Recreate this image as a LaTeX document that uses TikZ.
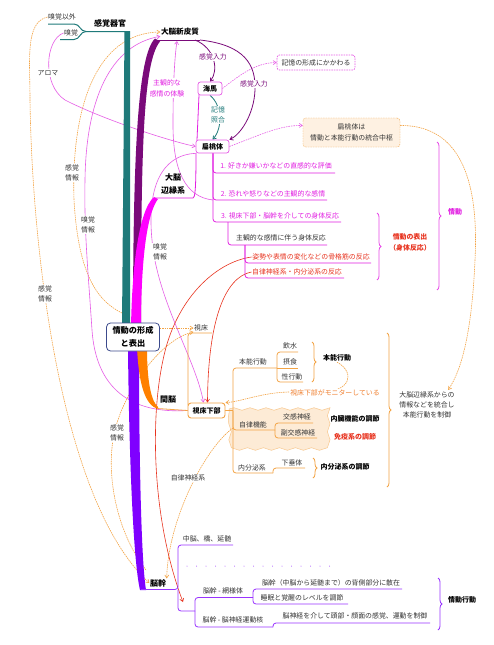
\documentclass[tikz,border=0pt]{standalone}
\usepackage{fontspec}
\setmainfont{Noto Sans CJK JP}
\usetikzlibrary{arrows.meta,decorations.pathreplacing,decorations.pathmorphing}
\pgfdeclarelayer{bg}
\pgfsetlayers{bg,main}
\definecolor{teal1}{HTML}{1F7A7A}
\definecolor{dpur}{HTML}{7A0A7A}
\definecolor{magc}{HTML}{E21FE2}
\definecolor{mag}{HTML}{FF00FF}
\definecolor{pk}{HTML}{E65CE6}
\definecolor{ora}{HTML}{FF8000}
\definecolor{lor}{HTML}{F3A445}
\definecolor{otext}{HTML}{F08030}
\definecolor{vio}{HTML}{7F00FF}
\definecolor{redc}{HTML}{E8331F}
\definecolor{navy}{HTML}{3C4A8C}
\definecolor{peach}{HTML}{FDEBD6}
\definecolor{txtc}{HTML}{333333}
\begin{document}
\begin{tikzpicture}[x=1pt,y=-1pt,
 tx/.style={font=\fontsize{6.9}{10}\selectfont, text=txtc, inner sep=0.5pt, align=center},
 txb/.style={font=\fontsize{8}{13}\selectfont\bfseries, text=black, inner sep=0.5pt, align=center},
 txs/.style={font=\fontsize{7}{10}\selectfont\bfseries, text=black, inner sep=0.5pt, align=center},
 wl/.style={tx, fill=white, inner sep=1pt},
 pbox/.style={draw=pk, line width=0.7pt, rounded corners=2.5pt, fill=white, inner sep=0pt, font=\fontsize{7}{9}\selectfont\bfseries},
 arr/.style={-{Straight Barb[length=3pt,width=4pt]}},
 pkl/.style={draw=pk, line width=0.6pt},
 mml/.style={draw=magc, line width=0.8pt, rounded corners=3pt},
 oll/.style={draw=lor, line width=0.6pt, dash pattern=on 1.5pt off 0.8pt},
 orl/.style={draw=lor, line width=0.8pt, rounded corners=3pt},
 vil/.style={draw=vio!80, line width=0.8pt, rounded corners=3pt},
 rdl/.style={draw=redc, line width=0.6pt},
 brc/.style={decorate, decoration={brace, amplitude=4pt}, line width=0.8pt},
]
\useasboundingbox (0,0) rectangle (494,645);

% ---------- nodes ----------
\node[txb] (organ) at (110,23) {感覚器官};
\node[tx] (kyuig) at (62,17) {嗅覚以外};
\node[tx] (kyu) at (71,33) {嗅覚};
\node[wl] (aroma) at (48,73) {アロマ};
\node[txb, font=\fontsize{7.6}{10}\selectfont\bfseries] (daino) at (180,32) {大脳新皮質};
\node[wl, text=dpur] (kin1) at (213,57) {感覚入力};
\node[wl, text=dpur] (kin2) at (254,84) {感覚入力};
\node[pbox, dash pattern=on 1.5pt off 1pt, font=\fontsize{6.9}{9}\selectfont, text=txtc, minimum width=78pt, minimum height=15pt] (kioku) at (316,62.5) {記憶の形成にかかわる};
\node[pbox, minimum width=24pt, minimum height=13pt] (kaiba) at (210,88.5) {海馬};
\node[wl, text=teal1] (shogo) at (218,115) {記憶\\照合};
\node[pbox, minimum width=33pt, minimum height=13pt] (hentou) at (212.5,146.5) {扁桃体};
\node[tx, font=\fontsize{6.9}{11}\selectfont, draw=lor, dash pattern=on 1.5pt off 1pt, fill=peach!70, rounded corners=3pt, minimum width=97pt, minimum height=29pt, inner sep=0pt] (togo) at (351.5,132.5) {扁桃体は\\情動と本能行動の統合中枢};
\node[wl, text=magc, font=\fontsize{6.9}{11}\selectfont] (shukan) at (167,88) {主観的な\\感情の体験};
\node[txb] (henen) at (173,184) {大脳\\辺縁系};
\node[tx, text=magc] (e1) at (276,166) {1. 好きか嫌いかなどの直感的な評価};
\node[tx, text=magc] (e2) at (273,194) {2. 恐れや怒りなどの主観的な感情};
\node[tx, text=magc] (e3) at (280,216) {3. 視床下部・脳幹を介しての身体反応};
\node[tx] (e3a) at (281,238) {主観的な感情に伴う身体反応};
\node[tx, text=redc] (e3b) at (311,257) {姿勢や表情の変化などの骨格筋の反応};
\node[tx, text=redc] (e3c) at (297,272) {自律神経系・内分泌系の反応};
\node[txs, text=redc, font=\fontsize{6.9}{11}\selectfont\bfseries] (hyoshutsu) at (410,242) {情動の表出\\（身体反応）};
\node[txs, text=magc] (jodo) at (455,212) {情動};
\node[wl] (kyj1) at (88,225) {嗅覚\\情報};
\node[wl] (kyj2) at (160,252) {嗅覚\\情報};
\node[wl] (kkj1) at (72,173) {感覚\\情報};
\node[wl] (kkj2) at (45,294) {感覚\\情報};
\node[wl] (kkj3) at (117,433) {感覚\\情報};
\node[draw=navy, line width=0.8pt, rounded corners=4pt, fill=white, minimum width=53pt, minimum height=28pt, inner sep=0pt, align=center, font=\fontsize{8.2}{13}\selectfont\bfseries] (core) at (133,337) {情動の形成\\と表出};
\node[tx] (shisho) at (201,328) {視床};
\node[txb] (kannou) at (168,400) {間脳};
\node[draw=lor, line width=0.9pt, rounded corners=3pt, fill=white, minimum width=37pt, minimum height=15pt, inner sep=0pt, font=\fontsize{7}{9}\selectfont\bfseries] (shitab) at (206.5,410.5) {視床下部};
\node[tx] (honno) at (253,362) {本能行動};
\node[tx] (insui) at (290,346) {飲水};
\node[tx] (sesshoku) at (290,362) {摂食};
\node[tx] (seiko) at (292,377) {性行動};
\node[txs] (honnob) at (337,358) {本能行動};
\node[tx, text=otext, fill=white] (monitor) at (335,393) {視床下部がモニターしている};
\node[tx] (jiritsu) at (253,425) {自律機能};
\node[tx] (kokan) at (297,417) {交感神経};
\node[tx] (fuku) at (298,433) {副交感神経};
\node[txs] (naizo) at (355,419) {内臓機能の調節};
\node[txs, text=redc] (meneki) at (355,437) {免疫系の調節};
\node[tx] (naibun) at (252,468) {内分泌系};
\node[tx] (kasui) at (292,463) {下垂体};
\node[txs] (naibunb) at (345,467) {内分泌系の調節};
\node[tx, font=\fontsize{6.9}{9.8}\selectfont] (tougou) at (427,405) {大脳辺縁系からの\\情報などを統合し\\本能行動を制御};
\node[wl] (jiritsush) at (188,478) {自律神経系};
\node[txb] (noukan) at (158,583) {脳幹};
\node[tx] (chuno) at (207,539) {中脳、橋、延髄};
\node[tx] (moyo) at (223,591) {脳幹 - 網様体};
\node[tx] (shinkei) at (233,620) {脳幹 - 脳神経運動核};
\node[tx] (sanzai) at (331,583) {脳幹（中脳から延髄まで）の背側部分に散在};
\node[tx] (suimin) at (302,598) {睡眠と覚醒のレベルを調節};
\node[tx] (seigyo) at (355,616) {脳神経を介して頭部・顔面の感覚、運動を制御};
\node[txs] (jodokodo) at (462,600) {情動行動};

\coordinate (e2s) at (213,200);
\coordinate (o2s) at (122,313);
\coordinate (o3s) at (146,570);
\coordinate (ans) at (233,428);
\coordinate (tgend) at (448,390);
\coordinate (dtop) at (177,41);

% ---------- background drawings ----------
\begin{pgfonlayer}{bg}
\fill[white] (0,0) rectangle (494,645);
\draw[draw=lor!60, fill=peach, line width=0.5pt, decorate, decoration={snake, amplitude=1.3pt, segment length=16pt}] (229,409) -- (326,409) -- (326,447) -- (229,447) -- cycle;

% long thin connectors
\draw[oll, arr] (kyuig.west) .. controls (25,22) and (30,60) .. (30,100) .. controls (32,250) and (60,500) .. (noukan.west);
\draw[oll, arr] (o2s) .. controls (95,300) and (78,270) .. (74,200) .. controls (71,110) and (95,33) .. (daino.west);
\draw[oll, arr] (o3s) .. controls (115,530) and (105,470) .. (115,430) .. controls (125,390) and (160,340) .. (shisho.south west);
\draw[oll, arr] ([yshift=9pt]core.east) -- (shisho.west);
\draw[oll, arr] (ans) .. controls (205,448) and (168,520) .. (noukan.north east);

\draw[pkl, arr] (kyu.west) .. controls (45,40) and (42,85) .. (65,100) .. controls (100,118) and (165,140) .. (hentou.west);
\draw[pkl, arr] (shitab.west) .. controls (130,414) and (96,388) .. (92,330) .. controls (88,270) and (84,230) .. (85,180) .. controls (86,100) and (110,45) .. (daino.south west);
\draw[pkl, arr] (hentou.south west) .. controls (160,155) and (147,190) .. (152,240) .. controls (157,300) and (196,360) .. ([xshift=-3pt]shitab.north);
\draw[pkl, arr] (e2s) .. controls (185,197) and (173,170) .. (173,125) .. controls (173,80) and (175,55) .. (dtop);
\draw[pkl, dash pattern=on 1.5pt off 1pt, arr] (kaiba.east) .. controls (240,75) and (255,63) .. (kioku.west);
\draw[pkl, dash pattern=on 1.5pt off 1pt, arr] (hentou.east) .. controls (260,135) and (280,125) .. ([yshift=7pt]togo.west);
\draw[oll, arr] ([yshift=7pt]togo.east) .. controls (470,125) and (478,200) .. (475,260) .. controls (472,330) and (462,370) .. (tgend);

\draw[rdl, arr] (e3b.west) .. controls (215,262) and (175,300) .. (163,360) .. controls (150,420) and (152,520) .. (183,602);
\draw[rdl, arr] (e3c.west) .. controls (225,277) and (208,320) .. ([xshift=1pt]shitab.north);

\draw[dpur, line width=0.8pt, arr] (195,40) .. controls (215,48) and (219,70) .. (kaiba.north);
\draw[dpur, line width=0.8pt, arr] (200,40) .. controls (245,45) and (256,65) .. (255,90) .. controls (254,115) and (240,135) .. (hentou.north east);
\draw[teal1, line width=0.8pt, arr] (kaiba.south) .. controls (222,105) and (223,128) .. (hentou.north);

% trunks
\fill[teal1] (122,326) -- (124.5,31) -- (130,31) -- (130,326) -- cycle;
\draw[teal1, line width=1pt] (48,24) -- (74,24) .. controls (80,24) and (80,31.5) .. (86,31.5) -- (128,31.5);
\draw[teal1, line width=1pt] (86,31.5) .. controls (80,31.5) and (80,39.5) .. (74,39.5) -- (60,39.5);
\fill[dpur] (155,38.5) .. controls (138,55) and (133,150) .. (133,330) -- (141,330) .. controls (141,150) and (143,62) .. (160,41.5) -- cycle;
\draw[dpur, line width=1pt] (157,40) -- (200,40);
\fill[mag] (154,197) .. controls (139,210) and (132,265) .. (131,328) -- (141,328) .. controls (141,265) and (146,215) .. (158,199) -- cycle;
\fill[vio] (128,348) .. controls (129,450) and (133,560) .. (140,590) -- (146,590) .. controls (141,560) and (139,450) .. (139,348) -- cycle;
\fill[ora] (137,348) .. controls (139,385) and (145,405) .. (158,409) -- (158,407) .. controls (152,402) and (147,385) .. (147,348) -- cycle;

% limbic mind map
\draw[mml] (154,198) -- (190,198) .. controls (195,198) and (196,190) .. (196,153);
\draw[mml] (197,140) -- (199,95);
\draw[mml] (213,153) |- (335,173);
\draw[mml] (213,153) |- (327,200);
\draw[mml] (213,153) |- (341,222);
\draw[mml] (228,222) |- (327,245);
\draw[mml] (245,245) |- (371,263);
\draw[mml] (245,245) |- (344,278);
\draw[brc, magc!80] (377,213) -- (377,280);
\draw[brc, magc!80] (437,142) -- (437,290);

% diencephalon mind map
\draw[orl] (157,408.5) -- (shitab.west);
\draw[orl] (188,405) |- (212,333);
\draw[orl] (shitab.east) -- (233,410.5);
\draw[orl] (233,410.5) |- (277,368);
\draw[orl] (233,410.5) |- (275,430);
\draw[orl] (233,410.5) |- (273,473);
\draw[orl] (277,368) |- (298,352);
\draw[orl] (277,368) -- (298,368);
\draw[orl] (277,368) |- (303,382);
\draw[orl] (275,430) |- (313,423);
\draw[orl] (275,430) |- (317,438);
\draw[orl] (273,473) |- (305,468);
\draw[brc, lor] (312,342) -- (312,382);
\draw[brc, lor] (313,458) -- (313,478);
\draw[brc, lor] (387,333) -- (387,487);
\draw[oll, arr] (honnob.south) .. controls (355,372) and (352,392) .. (320,392) -- (288,392) .. controls (260,393) and (240,402) .. (shitab.north east);

% brainstem mind map
\draw[vil] (141,589.5) -- (173,589.5);
\draw[vil] (170,589.5) -| (178,545) -- (233,545);
\draw[vil] (178,589.5) |- (195,611);
\draw[vil] (195,611) |- (253,597.5);
\draw[vil] (195,611) |- (273,627);
\draw[vil] (253,597.5) |- (402,589);
\draw[vil] (253,597.5) |- (348,604);
\draw[vil] (273,627) |- (430,623);
\draw[vio!70, line width=1pt, line cap=round, dash pattern=on 0pt off 9.5pt] (187,566) -- (335,566);
\draw[brc, vio!80] (438,578) -- (438,630);
\end{pgfonlayer}
\end{tikzpicture}
\end{document}
